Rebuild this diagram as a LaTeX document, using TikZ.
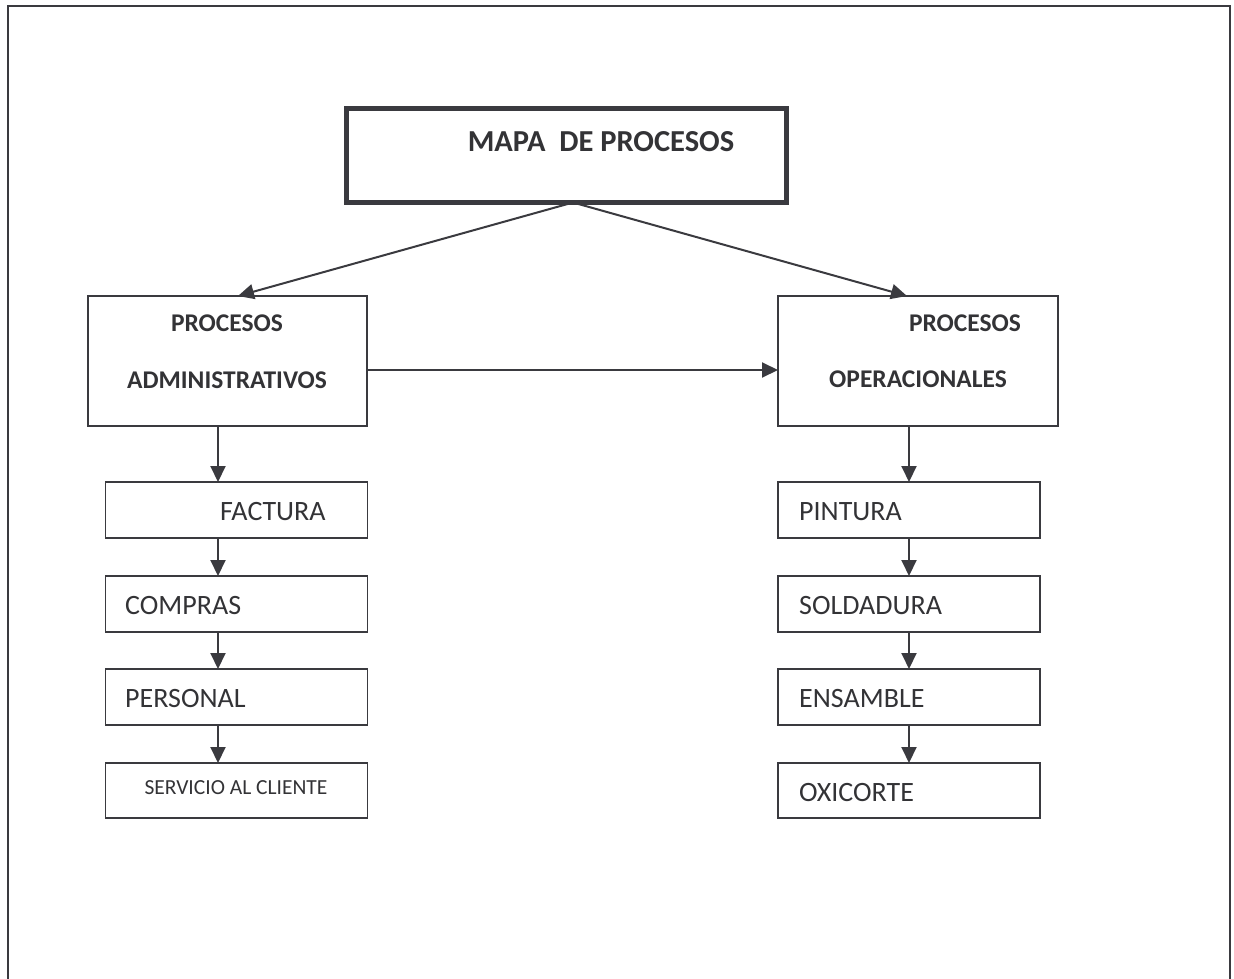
\documentclass[tikz,border=0pt]{standalone}
\usepackage{fontspec}
\setmainfont{Carlito}
\usetikzlibrary{arrows.meta}
\definecolor{ink}{HTML}{3A3A3F}
\definecolor{txt}{HTML}{333336}
\tikzset{
  box/.style={draw=ink, line width=1.6pt, rectangle, inner sep=0pt, outer sep=0pt},
  bigbox/.style={box, minimum width=280pt, minimum height=130pt},
  stepbox/.style={box, minimum width=262pt, minimum height=56pt},
  conn/.style={draw=ink, line width=2pt, -{Triangle[length=16pt,width=15pt]}},
  ttl/.style={text=txt, inner sep=0pt, font=\bfseries\fontsize{30.5}{34}\selectfont},
  head/.style={text=txt, inner sep=0pt, font=\bfseries\fontsize{25.5}{30}\selectfont},
  item/.style={text=txt, inner sep=0pt, anchor=base west, font=\fontsize{28}{32}\selectfont},
}
\begin{document}
\begin{tikzpicture}[x=1pt,y=-1pt]
\useasboundingbox (0,0) rectangle (1234,979);

% page frame, open at the bottom
\draw[ink, line width=1.8pt] (8,979) -- (8,6) -- (1230,6) -- (1230,979);

% title
\node[box, line width=5pt, minimum width=440pt, minimum height=94pt] (title) at (566,155.5) {};
\node[ttl, anchor=base] (titletxt) at (601,152) {MAPA\ \ DE PROCESOS};

% the two process groups
\node[bigbox, minimum width=279pt] (adm) at (227.5,361) {};
\node[head, anchor=base] (adm1) at (227,331) {PROCESOS};
\node[head, anchor=base] (adm2) at (227,388) {ADMINISTRATIVOS};

\node[bigbox] (ope) at (918,361) {};
\node[head, anchor=base] (ope1) at (965,331) {PROCESOS};
\node[head, anchor=base] (ope2) at (918,387) {OPERACIONALES};

% administrative steps
\node[stepbox] (fac) at (236.5,510) {};
\node[item] (factxt) at (220,520) {FACTURA};
\node[stepbox] (com) at (236.5,604) {};
\node[item] (comtxt) at (125,614) {COMPRAS};
\node[stepbox] (per) at (236.5,697) {};
\node[item] (pertxt) at (125,707) {PERSONAL};
\node[stepbox, minimum height=55pt] (ser) at (236.5,790.5) {};
\node[text=txt, inner sep=0pt, anchor=base, font=\fontsize{21.5}{26}\selectfont] (sertxt) at (236,794) {SERVICIO AL CLIENTE};

% operational steps
\node[stepbox] (pin) at (909,510) {};
\node[item] (pintxt) at (799,520) {PINTURA};
\node[stepbox] (sol) at (909,604) {};
\node[item] (soltxt) at (799,614) {SOLDADURA};
\node[stepbox] (ens) at (909,697) {};
\node[item] (enstxt) at (799,707) {ENSAMBLE};
\node[stepbox, minimum height=55pt] (oxi) at (909,790.5) {};
\node[item] (oxitxt) at (799,801) {OXICORTE};

% connector guides
\coordinate (apex) at (573,0);
\coordinate (ltip) at (238,0);
\coordinate (rtip) at (907,0);
\coordinate (hrow) at (0,370);
\coordinate (lcol) at (218,0);
\coordinate (rcol) at (909,0);

% connectors
\draw[conn] (title.south -| apex) -- (adm.north -| ltip);
\draw[conn] (title.south -| apex) -- (ope.north -| rtip);
\draw[conn] (adm.east |- hrow) -- (ope.west |- hrow);

\draw[conn] (adm.south -| lcol) -- (fac.north -| lcol);
\draw[conn] (fac.south -| lcol) -- (com.north -| lcol);
\draw[conn] (com.south -| lcol) -- (per.north -| lcol);
\draw[conn] (per.south -| lcol) -- (ser.north -| lcol);

\draw[conn] (ope.south -| rcol) -- (pin.north -| rcol);
\draw[conn] (pin.south -| rcol) -- (sol.north -| rcol);
\draw[conn] (sol.south -| rcol) -- (ens.north -| rcol);
\draw[conn] (ens.south -| rcol) -- (oxi.north -| rcol);
\end{tikzpicture}
\end{document}
